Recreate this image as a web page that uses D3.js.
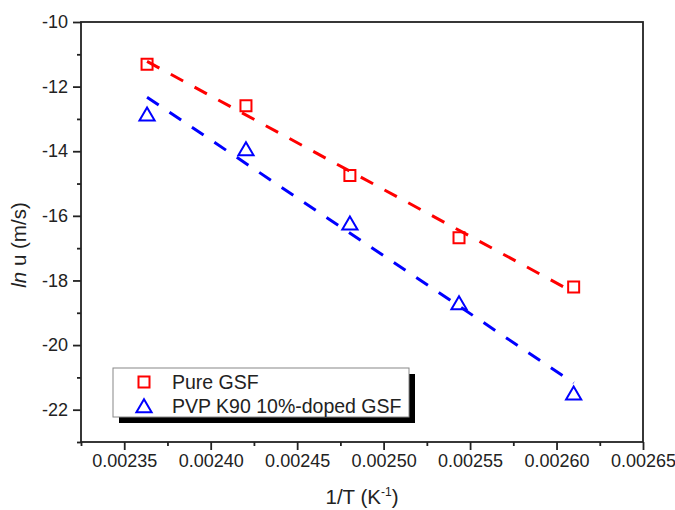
<!DOCTYPE html>
<html>
<head>
<meta charset="utf-8">
<script src="https://cdn.jsdelivr.net/npm/d3@7"></script>
<style>
  html, body { margin: 0; padding: 0; background: #fff; }
  svg { display: block; font-family: "Liberation Sans", Arial, sans-serif; }
</style>
</head>
<body>
<svg id="chart" width="675" height="510"></svg>
<script>
// Reciprocal temperature (1/T, K^-1) for the five measurement temperatures
const invTemp = [0.0023632, 0.0024204, 0.0024805, 0.0025436, 0.0026099];
// ln u (m/s) for each sample
const pureGSF = [-11.31, -12.59, -14.75, -16.68, -18.20];
const pvpDopedGSF = [-12.86, -13.93, -16.23, -18.70, -21.49];
const seriesNames = ["Pure GSF", "PVP K90 10%-doped GSF"];

// Axis tick values
const xMajorTicks = [0.00235, 0.00240, 0.00245, 0.00250, 0.00255, 0.00260, 0.00265];
const xMinorTicks = [0.002325, 0.002375, 0.002425, 0.002475, 0.002525, 0.002575, 0.002625];
const yMajorTicks = [-22, -20, -18, -16, -14, -12, -10];
const yMinorTicks = [-23, -21, -19, -17, -15, -13, -11];

const svg = d3.select("#chart");
const plotLeft = 81, plotRight = 643, plotTop = 22, plotBottom = 442;

const x = d3.scaleLinear().domain([0.002325, 0.00265]).range([plotLeft, plotRight]);
const y = d3.scaleLinear().domain([-23, -10]).range([plotBottom, plotTop]);

const axisColor = "#222";

// Least-squares straight line through a series
function linearFit(xs, ys) {
  const mx = d3.mean(xs), my = d3.mean(ys);
  let sxy = 0, sxx = 0;
  xs.forEach((v, i) => { sxy += (v - mx) * (ys[i] - my); sxx += (v - mx) * (v - mx); });
  const slope = sxy / sxx;
  return v => my + slope * (v - mx);
}

const series = [
  { name: seriesNames[0], values: pureGSF, color: "#ff0000", marker: "square" },
  { name: seriesNames[1], values: pvpDopedGSF, color: "#0000ff", marker: "triangle" }
];

// Fit lines (dashed)
const lineGen = d3.line().x(d => x(d[0])).y(d => y(d[1]));
series.forEach(s => {
  const f = linearFit(invTemp, s.values);
  const x0 = d3.min(invTemp), x1 = d3.max(invTemp);
  svg.append("path")
    .attr("d", lineGen([[x0, f(x0)], [x1, f(x1)]]))
    .attr("fill", "none")
    .attr("stroke", s.color)
    .attr("stroke-width", 3)
    .attr("stroke-dasharray", "14,13");
});

// Marker shapes
function markerPath(kind) {
  if (kind === "square") return "M-5.5,-5.5H5.5V5.5H-5.5Z";
  return "M0,-6.8L7.6,6.2L-7.6,6.2Z";
}

series.forEach(s => {
  svg.append("g").selectAll("path")
    .data(invTemp.map((v, i) => [v, s.values[i]]))
    .join("path")
    .attr("transform", d => `translate(${x(d[0])},${y(d[1])})`)
    .attr("d", markerPath(s.marker))
    .attr("fill", "none")
    .attr("stroke", s.color)
    .attr("stroke-width", 2);
});

// Frame
svg.append("rect")
  .attr("x", plotLeft).attr("y", plotTop)
  .attr("width", plotRight - plotLeft).attr("height", plotBottom - plotTop)
  .attr("fill", "none").attr("stroke", axisColor).attr("stroke-width", 1.8);

// Bottom axis
const xAxis = svg.append("g").attr("transform", `translate(0,${plotBottom})`);
xAxis.call(d3.axisBottom(x).tickValues(xMajorTicks).tickSize(8).tickPadding(4)
  .tickFormat(d3.format(".5f")));
xAxis.select(".domain").remove();
xAxis.selectAll(".tick line").attr("stroke", axisColor).attr("stroke-width", 1.8);
xAxis.selectAll(".tick text").attr("font-size", 18).attr("fill", "#222")
  .attr("font-family", "Liberation Sans, Arial, sans-serif");
const xMinor = svg.append("g").attr("transform", `translate(0,${plotBottom})`);
xMinor.call(d3.axisBottom(x).tickValues(xMinorTicks).tickSize(4).tickFormat(""));
xMinor.select(".domain").remove();
xMinor.selectAll(".tick line").attr("stroke", axisColor).attr("stroke-width", 1.8);

// Left axis
const yAxis = svg.append("g").attr("transform", `translate(${plotLeft},0)`);
yAxis.call(d3.axisLeft(y).tickValues(yMajorTicks).tickSize(8).tickPadding(5)
  .tickFormat(d => String(d)));
yAxis.select(".domain").remove();
yAxis.selectAll(".tick line").attr("stroke", axisColor).attr("stroke-width", 1.8);
yAxis.selectAll(".tick text").attr("font-size", 18).attr("fill", "#222")
  .attr("font-family", "Liberation Sans, Arial, sans-serif");
const yMinor = svg.append("g").attr("transform", `translate(${plotLeft},0)`);
yMinor.call(d3.axisLeft(y).tickValues(yMinorTicks).tickSize(4).tickFormat(""));
yMinor.select(".domain").remove();
yMinor.selectAll(".tick line").attr("stroke", axisColor).attr("stroke-width", 1.8);

// Axis titles
const xTitle = svg.append("text")
  .attr("x", (plotLeft + plotRight) / 2).attr("y", 504)
  .attr("text-anchor", "middle").attr("font-size", 20.5).attr("fill", "#222");
xTitle.append("tspan").text("1/T (K");
xTitle.append("tspan").attr("font-size", 12).attr("dy", -8).text("-1");
xTitle.append("tspan").attr("dy", 8).text(")");

const yTitle = svg.append("text")
  .attr("transform", "translate(26,245) rotate(-90)")
  .attr("text-anchor", "middle").attr("font-size", 20.5).attr("fill", "#222");
yTitle.append("tspan").attr("font-style", "italic").text("ln");
yTitle.append("tspan").text(" u (m/s)");

// Legend with drop shadow
const lg = svg.append("g").attr("transform", "translate(113,368)");
lg.append("rect").attr("x", 6).attr("y", 6).attr("width", 296).attr("height", 49).attr("fill", "#000");
lg.append("rect").attr("x", 0).attr("y", 0).attr("width", 296).attr("height", 49)
  .attr("fill", "#fff").attr("stroke", "#888").attr("stroke-width", 1);
series.forEach((s, i) => {
  const cy = 14 + i * 24;
  lg.append("path")
    .attr("transform", `translate(31,${cy})`)
    .attr("d", markerPath(s.marker))
    .attr("fill", "none").attr("stroke", s.color).attr("stroke-width", 2);
  lg.append("text")
    .attr("x", 59).attr("y", cy + 6.8)
    .attr("font-size", 19.5).attr("fill", "#222")
    .text(s.name);
});
</script>
</body>
</html>
